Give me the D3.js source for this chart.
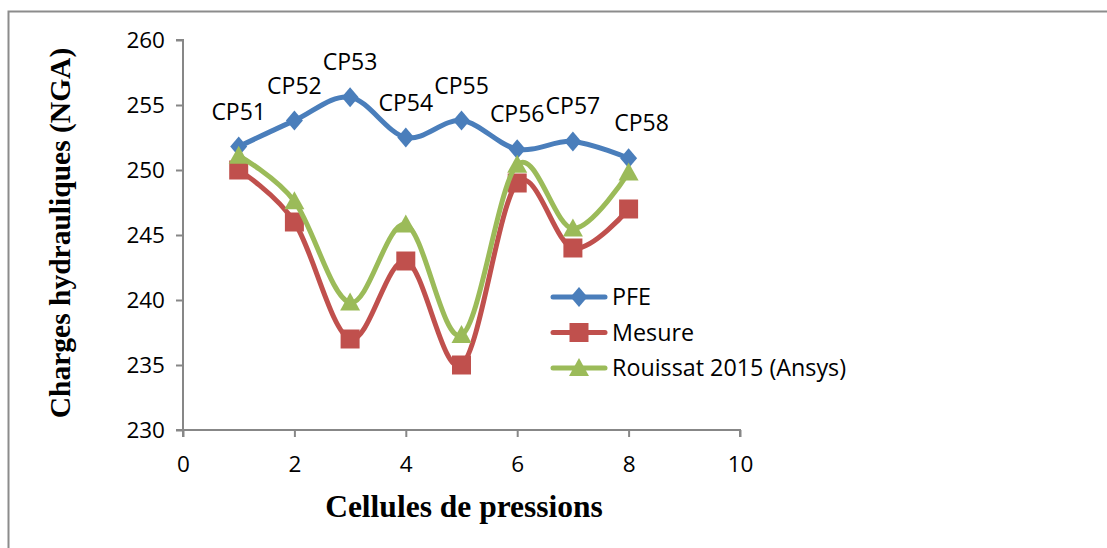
<!DOCTYPE html>
<html><head><meta charset="utf-8">
<script src="https://cdn.jsdelivr.net/npm/d3@7"></script>
<style>body{margin:0;background:#fff}svg{display:block}</style>
</head><body>
<script>
const xValues = [1, 2, 3, 4, 5, 6, 7, 8];
const pointLabels = ["CP51","CP52","CP53","CP54","CP55","CP56","CP57","CP58"];
const pfe = [251.8, 253.8, 255.6, 252.5, 253.8, 251.6, 252.2, 250.9];
const mesure = [250, 246, 237, 243, 235, 249, 244, 247];
const rouissat = [251.1, 247.6, 239.8, 245.8, 237.3, 250.4, 245.5, 249.8];
const seriesNames = ["PFE", "Mesure", "Rouissat 2015 (Ansys)"];
const xTicks = [0, 2, 4, 6, 8, 10];
const yTicks = [230, 235, 240, 245, 250, 255, 260];

const W = 1107, H = 548;
const svg = d3.select("body").append("svg").attr("width", W).attr("height", H);

svg.append("path").attr("d", `M8.5,${H} L8.5,11.5 L${W},11.5`)
  .attr("fill","none").attr("stroke","#8c8c8c").attr("stroke-width",2);

const x = d3.scaleLinear().domain([0,10]).range([183, 740]);
const y = d3.scaleLinear().domain([230,260]).range([430, 40]);

const axisColor = "#878787";
const fontSans = "'Open Sans', sans-serif";

const gy = svg.append("g").attr("transform", `translate(${x(0)},0)`)
  .call(d3.axisLeft(y).tickValues(yTicks).tickSize(7).tickPadding(11).tickFormat(d3.format("d")));
const gx = svg.append("g").attr("transform", `translate(0,${y(230)})`)
  .call(d3.axisBottom(x).tickValues(xTicks).tickSize(7).tickPadding(19).tickFormat(d3.format("d")));
[gx, gy].forEach(g => {
  g.select(".domain").attr("stroke", axisColor).attr("stroke-width", 2);
  g.selectAll(".tick line").attr("stroke", axisColor).attr("stroke-width", 2);
  g.selectAll(".tick text").attr("font-family", fontSans).attr("font-size", 22.5).attr("fill", "#000");
});
gx.select(".domain").attr("d", `M${x(0)},7V0H${x(10)}V7`);
gy.select(".domain").attr("d", `M-7,${y(260)}H0V${y(230)}H-7`);

svg.append("text").attr("x", 464).attr("y", 517)
  .attr("text-anchor","middle").attr("font-family","'Liberation Serif', 'Times New Roman', serif")
  .attr("font-weight","bold").attr("font-size", 31.5).text("Cellules de pressions");
svg.append("text").attr("transform", `translate(70,233) rotate(-90)`)
  .attr("text-anchor","middle").attr("font-family","'Liberation Serif', 'Times New Roman', serif")
  .attr("font-weight","bold").attr("font-size", 29.5).text("Charges hydrauliques (NGA)");

const colors = ["#4A7EBB", "#C0504D", "#9BBB59"];
const data = [pfe, mesure, rouissat];

const markerPaths = [
  "M0,-10 L8.5,0 L0,10 L-8.5,0 Z",
  "M-9.5,-9.5 H9.5 V9.5 H-9.5 Z",
  "M0,-10 L10,8 L-10,8 Z"
];

const line = d3.line().x((d,i) => x(xValues[i])).y(d => y(d)).curve(d3.curveCardinal.tension(0));

data.forEach((vals, s) => {
  svg.append("path").attr("d", line(vals)).attr("fill","none")
    .attr("stroke", colors[s]).attr("stroke-width", 5).attr("stroke-linejoin","round");
  svg.append("g").selectAll("path").data(vals).join("path")
    .attr("transform", (d,i) => `translate(${x(xValues[i])},${y(d)})`)
    .attr("d", markerPaths[s])
    .attr("fill", colors[s]);
});

svg.append("g").selectAll("text").data(pfe).join("text")
  .attr("x", (d,i) => x(xValues[i]) + (i===7 ? 13 : 0))
  .attr("y", (d,i) => y(d) - 27)
  .attr("text-anchor","middle").attr("font-family", fontSans).attr("font-size", 23)
  .attr("fill","#000").text((d,i) => pointLabels[i]);

const legend = svg.append("g");
seriesNames.forEach((name, s) => {
  const ly = 297 + s * 35.5;
  legend.append("line").attr("x1", 553).attr("x2", 605).attr("y1", ly).attr("y2", ly)
    .attr("stroke", colors[s]).attr("stroke-width", 5).attr("stroke-linecap","round");
  legend.append("path").attr("transform", `translate(579,${ly})`)
    .attr("d", markerPaths[s]).attr("fill", colors[s]);
  legend.append("text").attr("x", 612).attr("y", ly).attr("dy","0.36em")
    .attr("font-family", fontSans).attr("font-size", 23.3).attr("fill","#000").text(name);
});
</script>
</body></html>
